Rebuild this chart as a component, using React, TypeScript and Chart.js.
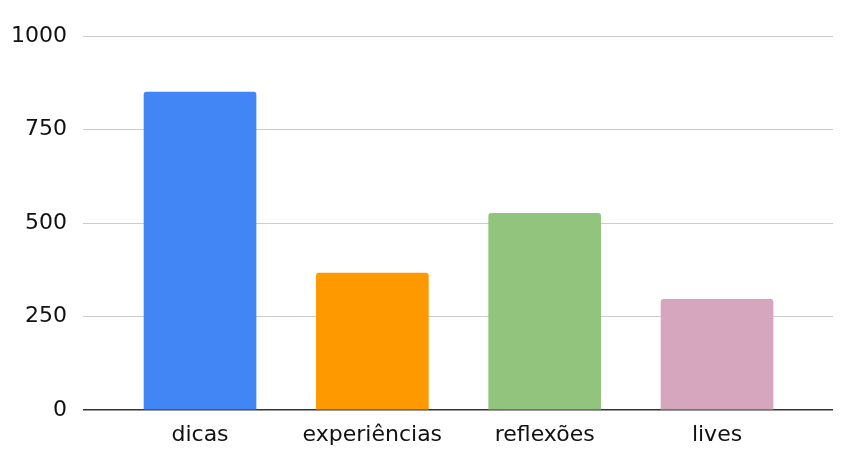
import React, { useEffect, useRef } from "react";
import { Chart, registerables } from "chart.js";

Chart.register(...registerables);

const categories = ["dicas", "experiências", "reflexões", "lives"];
const values = [850, 366, 526, 296];
const barColors = ["#4285F4", "#FF9900", "#93C47D", "#D5A6BD"];
const yTicks = [0, 250, 500, 750, 1000];

export default function App() {
  const ref = useRef<HTMLCanvasElement | null>(null);

  useEffect(() => {
    document.body.style.margin = "0";
    const canvas = ref.current;
    if (!canvas) return;
    const font = { family: "'DejaVu Sans', 'Liberation Sans', Arial, sans-serif", size: 22 };
    const chart = new Chart(canvas, {
      type: "bar",
      data: {
        datasets: [
          {
            data: values.map((v, i) => ({ x: i, y: v })),
            backgroundColor: barColors,
            borderRadius: 3,
            borderSkipped: "start",
            barThickness: 112,
          },
        ],
      },
      options: {
        animation: false,
        responsive: false,
        maintainAspectRatio: false,
        layout: { padding: { top: 36, right: 17, left: 0, bottom: 0 } },
        plugins: { legend: { display: false }, tooltip: { enabled: false } },
        scales: {
          x: {
            type: "linear",
            offset: false,
            min: -0.679,
            max: 3.673,
            grid: { display: false },
            border: { display: false },
            afterBuildTicks: (scale: any) => {
              scale.ticks = categories.map((_, i) => ({ value: i }));
            },
            afterFit: (scale: any) => {
              scale.height = 47;
            },
            ticks: {
              font,
              color: "#111",
              padding: 4,
              autoSkip: false,
              maxRotation: 0,
              callback: (v: any) => categories[v as number] ?? "",
            },
          },
          y: {
            min: 0,
            max: 1000,
            afterBuildTicks: (scale: any) => {
              scale.ticks = yTicks.map((v) => ({ value: v }));
            },
            afterFit: (scale: any) => {
              scale.width = 83;
            },
            border: { display: false },
            grid: {
              drawTicks: false,
              color: (ctx: any) => (ctx.tick && ctx.tick.value === 0 ? "#333" : "#cccccc"),
              lineWidth: (ctx: any) => (ctx.tick && ctx.tick.value === 0 ? 1.5 : 1),
            },
            ticks: {
              font,
              color: "#111",
              padding: 16,
              callback: (v: any) => String(v),
            },
          },
        },
      },
    });
    return () => chart.destroy();
  }, []);

  return (
    <div style={{ width: 850, height: 457, background: "#fff" }}>
      <canvas ref={ref} width={850} height={457} style={{ display: "block" }} />
    </div>
  );
}
